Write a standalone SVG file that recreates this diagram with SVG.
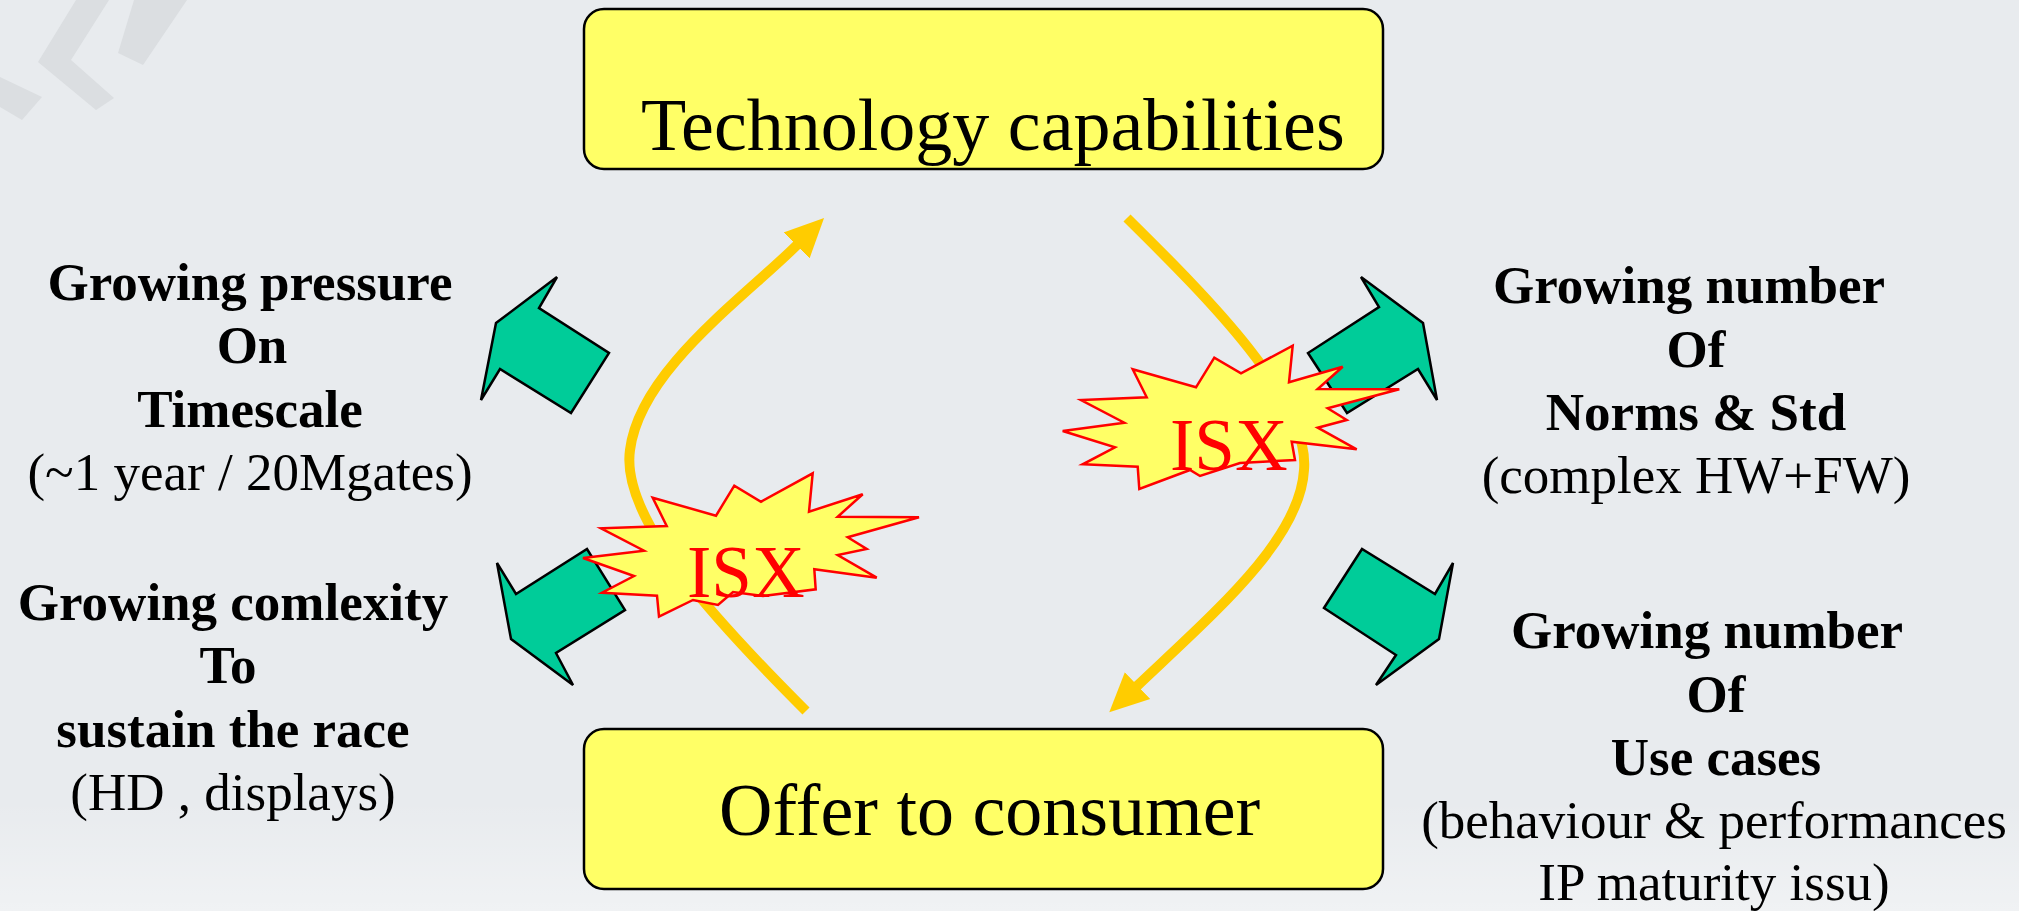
<svg xmlns="http://www.w3.org/2000/svg" width="2034" height="911" viewBox="0 0 2034 911">
  <defs>
    <style>
      .bg { fill: #E8EBEE; }
      .mark { fill: #DBDEE1; }
      .box { fill: #FFFF66; stroke: #000000; stroke-width: 2.5; }
      .boxtext { font-family: "Liberation Serif", "Times New Roman", serif; font-size: 74px; fill: #000000; }
      .lbl { font-family: "Liberation Serif", "Times New Roman", serif; font-size: 53px; fill: #000000; text-anchor: middle; }
      .b { font-weight: bold; }
      .flow { fill: none; stroke: #FFCC00; stroke-width: 10; stroke-linecap: butt; }
      .impact { fill: #00CC99; stroke: #000000; stroke-width: 2.5; stroke-linejoin: miter; }
      .burst { fill: #FFFF66; stroke: #FF0000; stroke-width: 2.5; stroke-linejoin: miter; }
      .isx { font-family: "Liberation Serif", "Times New Roman", serif; font-size: 73px; fill: #FF0000; }
    </style>
    <marker id="head" markerUnits="userSpaceOnUse" markerWidth="40" markerHeight="40" viewBox="0 -18 38 36" refX="2" refY="0" orient="auto">
      <path d="M0,-17.5 L37,0 L0,17.5 Z" fill="#FFCC00"/>
    </marker>
    <linearGradient id="haze" x1="0" y1="0" x2="0" y2="1">
      <stop offset="0" stop-color="#FFFFFF" stop-opacity="0"/>
      <stop offset="1" stop-color="#FFFFFF" stop-opacity="0.35"/>
    </linearGradient>
  </defs>

  <!-- page background -->
  <rect x="0" y="0" width="2034" height="911" fill="#FFFFFF"/>
  <rect class="bg" x="0" y="0" width="2019" height="911"/>
  <rect x="0" y="800" width="2019" height="111" fill="url(#haze)"/>

  <!-- faint logo mark, top left -->
  <g id="logo-mark">
    <polygon class="mark" points="76,0 109,0 71,60 114,98 96,110 38,62"/>
    <polygon class="mark" points="134,0 187,0 143,65 118,53"/>
    <polygon class="mark" points="0,77 42,97 22,120 0,107"/>
  </g>

  <!-- cycle between the two boxes -->
  <g id="connectors">
    <path id="flow-up" class="flow" d="M806,711 C720,625 620,520 630,450 C640,370 745,297 798,244" marker-end="url(#head)"/>
    <path id="flow-down" class="flow" d="M1127,218 C1210,300 1310,400 1304,470 C1300,540 1215,612 1136,687" marker-end="url(#head)"/>
  </g>

  <!-- block arrows pointing at the pressures -->
  <g id="arrow-timescale">
    <polygon class="impact" points="557,277 539,308 609,353 571,413 500,369 481,400 496,323"/>
  </g>
  <g id="arrow-complexity">
    <polygon class="impact" points="497,563 516,594 587,549 625,610 556,653 573,685 511,639"/>
  </g>
  <g id="arrow-norms">
    <polygon class="impact" points="1361,277 1379,307 1308,353 1347,413 1418,369 1437,400 1423,323"/>
  </g>
  <g id="arrow-usecases">
    <polygon class="impact" points="1324,608 1396,655 1376,685 1439,639 1453,563 1435,594 1362,549"/>
  </g>

  <!-- main boxes -->
  <g id="box-technology">
    <rect class="box" x="584" y="9" width="799" height="160" rx="20" ry="20"/>
    <text class="boxtext" x="641" y="150">Technology capabilities</text>
  </g>
  <g id="box-offer">
    <rect class="box" x="584" y="729" width="799" height="160" rx="20" ry="20"/>
    <text class="boxtext" x="719" y="835">Offer to consumer</text>
  </g>

  <!-- ISX bursts -->
  <g id="burst-left">
    <polygon class="burst" points="652.7,497.7 716,515.7 734.3,485.7 761,501.7 812.7,473.3 809,511.7 862.7,494.3 837.7,516.7 919,517.3 847.7,537.3 866.7,549 837.7,555 876.7,577.7 814.3,569.3 815.7,589.3 763,596 733,592 718,605 693,600 659,616.7 657,595.7 602,592.7 634,576 583,558 644,550.7 601,528.3 666.7,526"/>
    <text class="isx" x="687" y="597">ISX</text>
  </g>
  <g id="burst-right">
    <polygon class="burst" points="1132.7,369.3 1196,387.3 1214.3,357.7 1241,373.3 1292.7,345.7 1289,382.3 1342.7,366.7 1317.7,389 1399.3,389.3 1327.7,408.3 1346.7,420 1317.7,427.7 1356.7,449.3 1291.7,441.7 1295,460 1240,463 1200,476 1190,470 1139.3,489 1137.7,466.7 1082.7,464.3 1115,447.3 1062.7,431 1124.3,422.7 1081,400 1146.7,397.3"/>
    <text class="isx" x="1170" y="470">ISX</text>
  </g>

  <!-- side labels -->
  <g id="label-timescale">
    <text class="lbl b" x="250" y="300">Growing pressure</text>
    <text class="lbl b" x="252" y="363">On</text>
    <text class="lbl b" x="250" y="427">Timescale</text>
    <text class="lbl" x="250" y="490">(~1 year / 20Mgates)</text>
  </g>
  <g id="label-complexity">
    <text class="lbl b" x="233" y="620">Growing comlexity</text>
    <text class="lbl b" x="228" y="683">To</text>
    <text class="lbl b" x="233" y="747">sustain the race</text>
    <text class="lbl" x="233" y="810">(HD , displays)</text>
  </g>
  <g id="label-norms">
    <text class="lbl b" x="1689" y="303">Growing number</text>
    <text class="lbl b" x="1696" y="367">Of</text>
    <text class="lbl b" x="1696" y="430">Norms &amp; Std</text>
    <text class="lbl" x="1696" y="493">(complex HW+FW)</text>
  </g>
  <g id="label-usecases">
    <text class="lbl b" x="1707" y="648">Growing number</text>
    <text class="lbl b" x="1716" y="712">Of</text>
    <text class="lbl b" x="1716" y="775">Use cases</text>
    <text class="lbl" x="1714" y="838">(behaviour &amp; performances</text>
    <text class="lbl" x="1714" y="900">IP maturity issu)</text>
  </g>
</svg>
